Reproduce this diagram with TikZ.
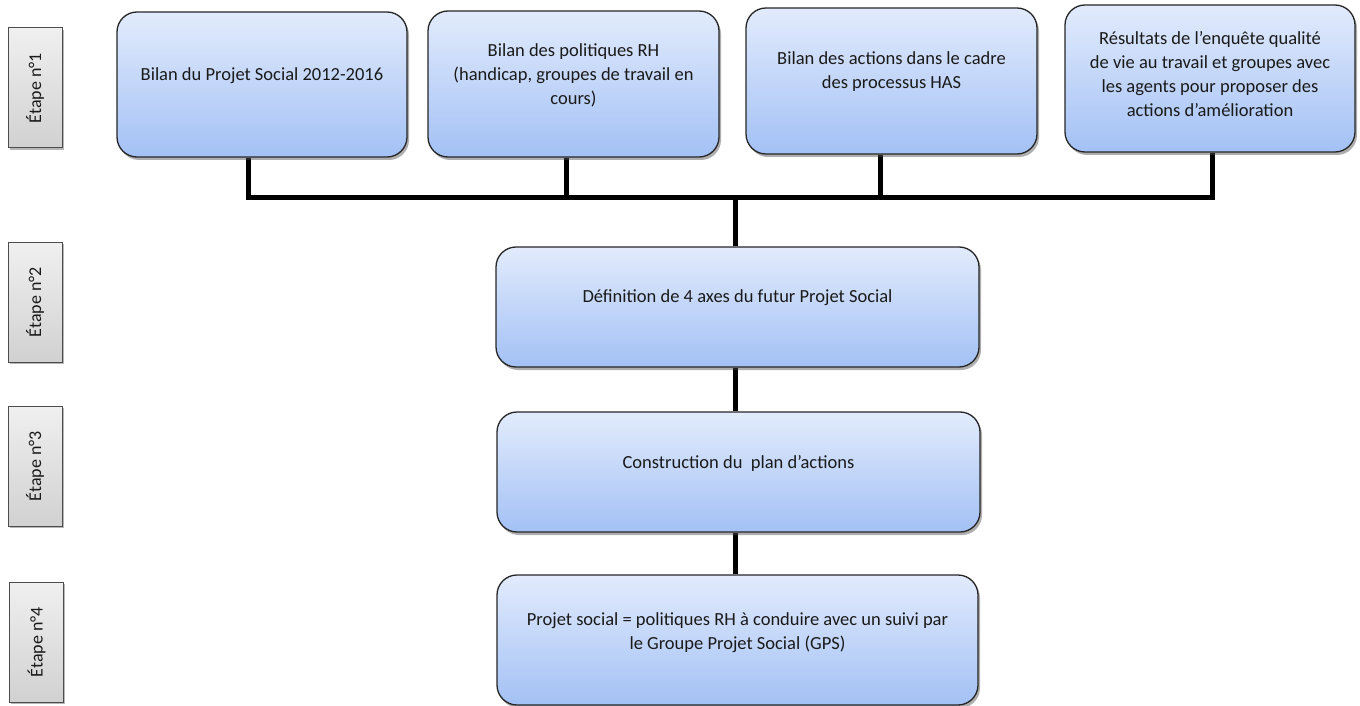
\documentclass[tikz,border=0pt]{standalone}
\usepackage{fontspec}
\setmainfont{Carlito}
\usetikzlibrary{shadows,calc,backgrounds}
\definecolor{txtc}{HTML}{1A1A1A}
\definecolor{boxtop}{HTML}{E2EBFC}
\definecolor{boxbot}{HTML}{A3C1F5}
\tikzset{
  box/.style={draw=black!85, line width=1.3pt, rounded corners=20pt,
    top color=boxtop, bottom color=boxbot,
    drop shadow={shadow xshift=2pt, shadow yshift=-3pt, opacity=0.45, fill=black!70},
    inner sep=0pt},
  lbl/.style={align=center, font=\fontsize{18.5}{24}\selectfont, text=txtc, yshift=9pt},
  etape/.style={draw=black!70, line width=1pt, top color=black!6, bottom color=black!18,
    drop shadow={shadow xshift=1.5pt, shadow yshift=-2pt, opacity=0.4, fill=black!70},
    minimum width=54pt, minimum height=120pt, inner sep=0pt},
  etxt/.style={rotate=90, font=\fontsize{18}{20}\selectfont, text=txtc},
  conn/.style={line width=5pt, black}
}
\begin{document}
\begin{tikzpicture}[x=1pt,y=-1pt]
\useasboundingbox (0,0) rectangle (1360,706);
% Etape labels
\node[etape] (e1) at (35,88) {};
\node[etxt] (t1) at (e1.center) {Étape n°1};
\node[etape] (e2) at (35,302) {};
\node[etxt] (t2) at (e2.center) {Étape n°2};
\node[etape] (e3) at (35,466) {};
\node[etxt] (t3) at (e3.center) {Étape n°3};
\node[etape] (e4) at (36.5,642) {};
\node[etxt] (t4) at (e4.center) {Étape n°4};
% boxes
\node[box, minimum width=290pt, minimum height=145pt,
  label={[lbl]center:Bilan du Projet Social 2012-2016}] (b1) at (262,84.5) {};
\node[box, minimum width=291pt, minimum height=146pt,
  label={[lbl]center:Bilan des politiques RH\\(handicap, groupes de travail en\\cours)}] (b2) at (573.5,84) {};
\node[box, minimum width=291pt, minimum height=146pt,
  label={[lbl]center:Bilan des actions dans le cadre\\des processus HAS}] (b3) at (891.5,81) {};
\node[box, minimum width=290pt, minimum height=147pt,
  label={[lbl,yshift=-5pt]center:Résultats de l’enquête qualité\\de vie au travail et groupes avec\\les agents pour proposer des\\actions d’amélioration}] (b4) at (1210,78.5) {};
\node[box, minimum width=483pt, minimum height=120pt,
  label={[lbl]center:Définition de 4 axes du futur Projet Social}] (d) at (737.5,307) {};
\node[box, minimum width=483pt, minimum height=120pt,
  label={[lbl]center:Construction du\ \ plan d’actions}] (c) at (738.5,472) {};
\node[box, minimum width=481pt, minimum height=130pt,
  label={[lbl,yshift=-2pt]center:Projet social = politiques RH à conduire avec un suivi par\\le Groupe Projet Social (GPS)}] (p) at (737.5,640) {};
% junction coordinates
\coordinate (j1) at (248,197);
\coordinate (j2) at (566,197);
\coordinate (j3) at (880,197);
\coordinate (j4) at (1212,197);
\coordinate (jm) at (735,197);
% connectors
\begin{scope}[on background layer]
\draw[conn] (b1.south -| j1) -- (j1) -- (j4) -- (b4.south -| j4);
\draw[conn] (b2.south -| j2) -- (j2);
\draw[conn] (b3.south -| j3) -- (j3);
\draw[conn] (jm) -- (d.north -| jm);
\draw[conn] (d.south -| jm) -- (c.north -| jm);
\draw[conn] (c.south -| jm) -- (p.north -| jm);
\end{scope}
\end{tikzpicture}
\end{document}
